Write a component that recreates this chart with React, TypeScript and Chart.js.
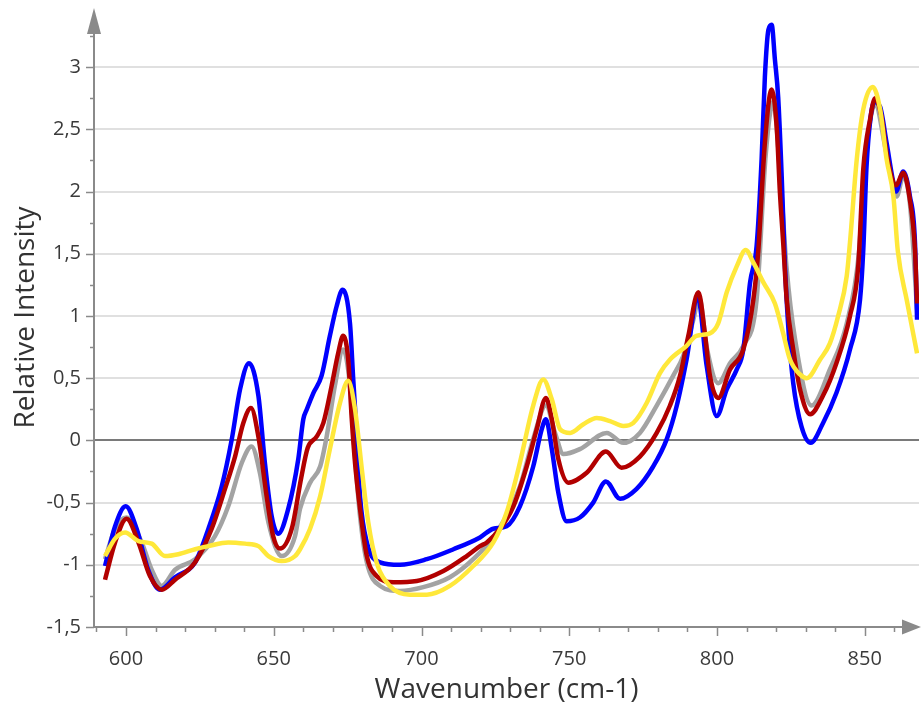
import React, { useEffect, useRef } from 'react';
import { Chart, registerables } from 'chart.js';

Chart.register(...registerables);

// ---------- data (wavenumber cm-1 / relative intensity) ----------
const grayX = [592.9, 596.3, 600.2, 605.3, 608.7, 612.1, 616.6, 623.4, 630.1, 634.6, 639.2, 642.5, 645.3, 648.2, 652.7, 657.2, 658.9, 662.3, 665.7, 667.9, 670.7, 673.5, 675.8, 677.5, 679.2, 681.5, 686, 692.7, 700.6, 709.6, 717.5, 725.4, 733.3, 737.8, 742.1, 745.2, 748, 753.6, 762.7, 768.3, 773.9, 779.6, 785.2, 788.6, 792, 794, 796.5, 800.4, 804.4, 808.9, 813.4, 816.5, 819, 821.5, 823.5, 826.5, 832, 838.2, 843.9, 848, 850, 853.5, 857.4, 860.8, 863, 865.3, 867.7];
const grayY = [-0.955, -0.71, -0.62, -0.82, -1.04, -1.17, -1.04, -0.955, -0.77, -0.53, -0.18, -0.05, -0.26, -0.66, -0.93, -0.77, -0.55, -0.34, -0.21, 0.03, 0.44, 0.73, 0.44, -0.13, -0.61, -0.98, -1.17, -1.21, -1.18, -1.1, -0.955, -0.74, -0.37, 0.01, 0.28, 0.06, -0.11, -0.07, 0.06, -0.02, 0.06, 0.28, 0.52, 0.68, 0.97, 1.15, 0.75, 0.46, 0.62, 0.76, 1.13, 2.3, 2.72, 2.1, 1.4, 0.8, 0.28, 0.57, 0.94, 1.5, 2.2, 2.7, 2.3, 1.96, 2.12, 1.9, 1.05];

const blueX = [592.9, 596.3, 599.9, 603.6, 607.5, 611.5, 616.6, 623.4, 627.9, 632.4, 635.8, 638.6, 641.6, 644.8, 647, 649.3, 651.5, 654.9, 658.3, 660, 661.2, 663.4, 666.2, 669, 671.3, 673.3, 675.8, 676.9, 678.1, 679.2, 681.5, 686, 692.7, 701.8, 710.8, 719.8, 724.3, 728.8, 733.3, 737.8, 740.7, 742.1, 744.1, 746.3, 749.1, 753.6, 758.1, 762.4, 767.2, 772.8, 778.4, 783, 786.4, 789.7, 793.5, 796.5, 799.9, 803.3, 806.7, 808.9, 811.2, 813.4, 815.1, 816.2, 817.4, 818.5, 819.6, 820.7, 821.9, 823, 824.3, 825.8, 828.6, 831.7, 835.9, 840.4, 845, 848.4, 849.5, 850.6, 852, 853.3, 855.2, 857.4, 859.7, 860.6, 863, 865.3, 867, 867.7];
const blueY = [-1.01, -0.69, -0.53, -0.71, -1.04, -1.2, -1.1, -0.98, -0.71, -0.37, 0.01, 0.41, 0.62, 0.36, -0.18, -0.61, -0.75, -0.55, -0.15, 0.17, 0.25, 0.38, 0.52, 0.84, 1.08, 1.21, 0.94, 0.49, 0.03, -0.45, -0.82, -0.98, -1.0, -0.955, -0.875, -0.78, -0.71, -0.69, -0.53, -0.21, 0.09, 0.17, -0.07, -0.42, -0.65, -0.62, -0.5, -0.33, -0.47, -0.39, -0.21, 0.01, 0.28, 0.65, 1.15, 0.6, 0.195, 0.41, 0.57, 0.73, 1.27, 1.56, 2.26, 2.92, 3.3, 3.34, 3.06, 2.76, 2.12, 1.4, 0.85, 0.46, 0.11, -0.02, 0.14, 0.38, 0.73, 1.13, 1.53, 2.2, 2.6, 2.72, 2.68, 2.39, 2.07, 2.0, 2.16, 1.96, 1.59, 0.97];

const redX = [592.9, 596.3, 600.2, 604.2, 608.1, 612.1, 616.6, 623.4, 629, 633.5, 636.9, 639.7, 642.3, 644.8, 647.6, 649.8, 652.1, 656.1, 659.3, 661.5, 664.5, 666.8, 669.6, 671.8, 673.5, 675.2, 676.4, 677.5, 679.2, 681.5, 684.8, 690.5, 698.4, 707.4, 715.3, 719.8, 722.1, 726.6, 731.1, 735.6, 739, 742.1, 744.1, 746.3, 749.7, 755.9, 762.4, 767.7, 773.9, 779.6, 784.1, 787.5, 790.3, 793.7, 795.9, 797.6, 800.4, 804.4, 808.9, 812.3, 814, 814.5, 816.2, 818.5, 820.2, 821.3, 822.4, 823.6, 825.8, 828.1, 831.5, 835.9, 840.4, 845, 847.8, 849.5, 851.8, 853.5, 855.7, 857.4, 859.7, 860.6, 863, 865.3, 867, 867.7];
const redY = [-1.12, -0.82, -0.63, -0.82, -1.09, -1.2, -1.12, -0.98, -0.71, -0.39, -0.13, 0.14, 0.26, 0.03, -0.45, -0.77, -0.87, -0.71, -0.3, -0.06, 0.03, 0.14, 0.44, 0.7, 0.84, 0.65, 0.17, -0.18, -0.55, -0.93, -1.09, -1.14, -1.13, -1.05, -0.93, -0.85, -0.82, -0.71, -0.53, -0.21, 0.09, 0.34, 0.17, -0.15, -0.34, -0.26, -0.09, -0.22, -0.13, 0.06, 0.28, 0.52, 0.84, 1.19, 0.86, 0.52, 0.34, 0.57, 0.73, 1.13, 1.53, 1.72, 2.39, 2.82, 2.52, 1.99, 1.59, 1.13, 0.73, 0.41, 0.21, 0.36, 0.62, 1.0, 1.4, 2.18, 2.58, 2.75, 2.6, 2.31, 2.07, 2.05, 2.15, 1.93, 1.53, 1.1];

const yellowX = [592.9, 596.3, 599.7, 604.2, 608.7, 613.2, 617.7, 623.4, 627.9, 634.6, 640.3, 644.8, 648.2, 652.7, 657.2, 658.9, 662.3, 665.7, 669, 672.4, 675.2, 677.5, 679.8, 682, 684.8, 689.3, 696.1, 701.8, 709.6, 717.5, 724.3, 728.8, 733.3, 737.8, 741.2, 744.1, 746.9, 750.3, 754.8, 759.3, 763.8, 768.3, 771.7, 776.2, 780.7, 784.1, 789.7, 793, 797.6, 800.4, 803.3, 806.7, 809.7, 812.5, 815.7, 819.6, 822.4, 824.7, 828.1, 830.4, 834.9, 838.2, 841, 843.9, 845, 847.3, 849.5, 852.7, 855.2, 857.4, 859.7, 861.2, 864.2, 867.7];
const yellowY = [-0.93, -0.79, -0.74, -0.81, -0.83, -0.93, -0.915, -0.875, -0.85, -0.82, -0.83, -0.85, -0.93, -0.97, -0.93, -0.875, -0.71, -0.45, -0.07, 0.3, 0.48, 0.25, -0.23, -0.66, -0.98, -1.17, -1.24, -1.24, -1.17, -1.01, -0.82, -0.58, -0.18, 0.28, 0.49, 0.33, 0.09, 0.06, 0.13, 0.18, 0.155, 0.115, 0.14, 0.3, 0.54, 0.65, 0.76, 0.84, 0.86, 0.94, 1.19, 1.4, 1.53, 1.42, 1.27, 1.1, 0.86, 0.65, 0.53, 0.5, 0.65, 0.78, 1.0, 1.32, 1.59, 2.26, 2.66, 2.84, 2.66, 2.26, 1.96, 1.52, 1.13, 0.7];

const xMajorTicks = [600, 650, 700, 750, 800, 850];
const yMajorTicks = [-1.5, -1, -0.5, 0, 0.5, 1, 1.5, 2, 2.5, 3];
const xTitle = 'Wavenumber (cm-1)';
const yTitle = 'Relative Intensity';

const toPoints = (xs: number[], ys: number[]) => xs.map((x, i) => ({ x, y: ys[i] }));
const fmt = (v: number) => String(v).replace('.', ',');

const FONT = "'Open Sans', 'Noto Sans', sans-serif";
const AXIS = '#8a8a8a';

const axisPlugin = {
  id: 'axisArrows',
  afterDatasetsDraw(chart: any) {
    const { ctx, chartArea, scales } = chart;
    const xs = scales.x;
    const ys = scales.y;
    const x0 = chartArea.left;
    const y0 = chartArea.bottom;
    ctx.save();
    ctx.strokeStyle = AXIS;
    ctx.fillStyle = AXIS;
    ctx.lineWidth = 2;
    // axis lines
    ctx.beginPath();
    ctx.moveTo(x0, y0 + 1);
    ctx.lineTo(x0, chartArea.top + 20);
    ctx.moveTo(x0 - 1, y0);
    ctx.lineTo(chartArea.right - 10, y0);
    ctx.stroke();
    // ticks
    ctx.lineWidth = 1.5;
    ctx.beginPath();
    for (let v = -1.5; v <= 3.25 + 1e-9; v += 0.25) {
      const p = Math.round(ys.getPixelForValue(v)) + 0.5;
      const major = Math.abs(v * 2 - Math.round(v * 2)) < 1e-6;
      ctx.moveTo(x0 - (major ? 8 : 4), p);
      ctx.lineTo(x0, p);
    }
    for (let v = 590; v <= 860; v += 10) {
      const p = Math.round(xs.getPixelForValue(v)) + 0.5;
      const major = v % 50 === 0;
      ctx.moveTo(p, y0);
      ctx.lineTo(p, y0 + (major ? 9 : 5));
    }
    ctx.stroke();
    // arrows
    ctx.beginPath();
    ctx.moveTo(x0, chartArea.top);
    ctx.lineTo(x0 - 7, chartArea.top + 26);
    ctx.lineTo(x0 + 7, chartArea.top + 26);
    ctx.closePath();
    ctx.fill();
    ctx.beginPath();
    ctx.moveTo(chart.width, y0);
    ctx.lineTo(chart.width - 19, y0 - 7.5);
    ctx.lineTo(chart.width - 19, y0 + 7.5);
    ctx.closePath();
    ctx.fill();
    ctx.restore();
  },
};

export default function App() {
  const ref = useRef<HTMLCanvasElement | null>(null);
  useEffect(() => {
    document.body.style.margin = '0';
    const canvas = ref.current;
    if (!canvas) return;
    const line = (data: any, color: string) => ({
      data,
      borderColor: color,
      backgroundColor: color,
      borderWidth: 4.5,
      pointRadius: 0,
      cubicInterpolationMode: 'monotone' as const,
      fill: false,
    });
    const chart = new Chart(canvas, {
      type: 'line',
      data: {
        datasets: [
          line(toPoints(yellowX, yellowY), '#ffe83a'),
          line(toPoints(redX, redY), '#b20000'),
          line(toPoints(blueX, blueY), '#0000ff'),
          line(toPoints(grayX, grayY), '#a3a3a3'),
        ],
      },
      plugins: [axisPlugin],
      options: {
        responsive: false,
        animation: false,
        layout: { padding: { top: 8, right: 2, left: 0, bottom: 0 } },
        plugins: { legend: { display: false }, tooltip: { enabled: false } },
        scales: {
          x: {
            type: 'linear',
            min: 589.17,
            max: 868.36,
            afterFit: (s: any) => { s.height = 86; s.paddingLeft = 0; s.paddingRight = 0; },
            afterBuildTicks: (s: any) => { s.ticks = xMajorTicks.map((value) => ({ value })); },
            grid: { display: false, drawTicks: false },
            border: { display: false },
            ticks: {
              includeBounds: false,
              padding: 20,
              color: '#3a3a3a',
              font: { family: FONT, size: 20 },
              maxRotation: 0,
              callback: (v: any) => fmt(Number(v)),
            },
            title: {
              display: true,
              text: xTitle,
              color: '#333333',
              font: { family: FONT, size: 28 },
              padding: { top: 0, bottom: 6 },
            },
          },
          y: {
            type: 'linear',
            min: -1.5,
            max: 3.475,
            afterFit: (s: any) => { s.width = 94; s.paddingTop = 0; s.paddingBottom = 0; },
            afterBuildTicks: (s: any) => { s.ticks = yMajorTicks.map((value) => ({ value })); },
            grid: {
              drawTicks: false,
              lineWidth: 2,
              color: (c: any) => (c.tick && c.tick.value === 0 ? '#7a7a7a' : '#e0e0e0'),
            },
            border: { display: false },
            ticks: {
              includeBounds: false,
              padding: 13,
              color: '#3a3a3a',
              font: { family: FONT, size: 20 },
              callback: (v: any) => fmt(Number(v)),
            },
            title: {
              display: true,
              text: yTitle,
              color: '#333333',
              font: { family: FONT, size: 28 },
              padding: { top: 9, bottom: 0 },
            },
          },
        },
      },
    });
    return () => chart.destroy();
  }, []);
  return (
    <div style={{ width: 921, height: 713 }}>
      <canvas ref={ref} width={921} height={713} style={{ display: 'block' }} />
    </div>
  );
}
